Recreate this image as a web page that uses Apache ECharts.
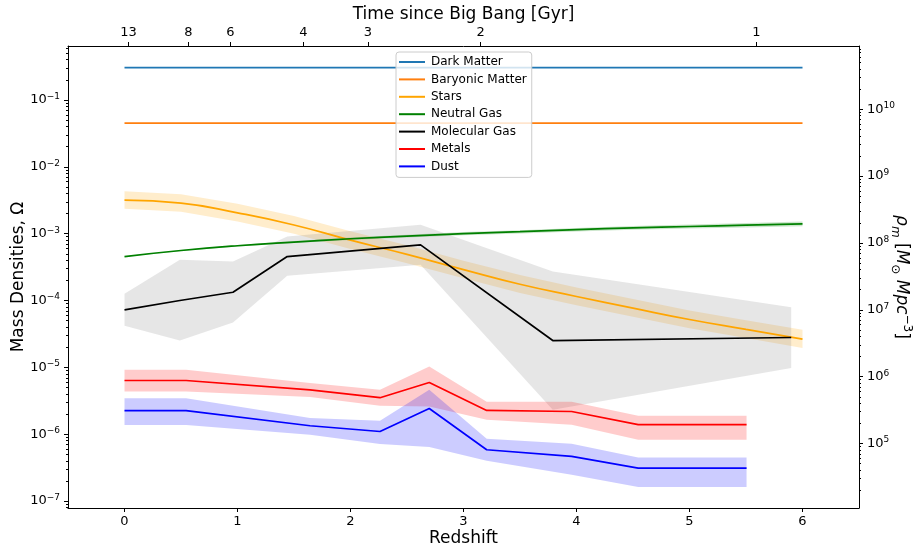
<!DOCTYPE html>
<html>
<head>
<meta charset="utf-8">
<script src="https://cdn.jsdelivr.net/npm/echarts@6/dist/echarts.min.js"></script>
<style>
html,body{margin:0;padding:0;background:#fff;}
#chart{width:920px;height:551px;}
</style>
</head>
<body>
<div id="chart"></div>
<script>
// ---------------- data ----------------
const zLine = [0, 6];
const darkMatter = [0.304, 0.304];
const baryonicMatter = [0.0449, 0.0449];

const zStars = [0, 0.5, 1, 1.5, 2, 2.5, 3, 3.5, 4, 4.5, 5, 5.5, 6];
const stars = [3.17e-3, 2.87e-3, 2.05e-3, 1.35e-3, 8.0e-4, 4.9e-4, 2.9e-4, 1.75e-4, 1.15e-4, 7.7e-5, 5.2e-5, 3.7e-5, 2.65e-5];
const starsHi = [4.3e-3, 3.9e-3, 2.8e-3, 1.84e-3, 1.09e-3, 6.7e-4, 3.95e-4, 2.4e-4, 1.57e-4, 1.05e-4, 7.1e-5, 5.05e-5, 3.65e-5];
const starsLo = [2.35e-3, 2.12e-3, 1.52e-3, 1.0e-3, 5.9e-4, 3.6e-4, 2.15e-4, 1.3e-4, 8.5e-5, 5.7e-5, 3.85e-5, 2.75e-5, 1.95e-5];

const zGas = [0, 0.5, 1, 1.5, 2, 2.5, 3, 3.5, 4, 4.5, 5, 5.5, 6];
const neutralGas = [4.55e-4, 5.6e-4, 6.6e-4, 7.5e-4, 8.4e-4, 9.2e-4, 1.0e-3, 1.07e-3, 1.15e-3, 1.22e-3, 1.28e-3, 1.34e-3, 1.40e-3];
const neutralGasHi = [4.6e-4, 5.7e-4, 6.75e-4, 7.75e-4, 8.75e-4, 9.65e-4, 1.055e-3, 1.13e-3, 1.22e-3, 1.3e-3, 1.37e-3, 1.44e-3, 1.52e-3];
const neutralGasLo = [4.5e-4, 5.5e-4, 6.45e-4, 7.25e-4, 8.05e-4, 8.75e-4, 9.45e-4, 1.01e-3, 1.08e-3, 1.14e-3, 1.19e-3, 1.24e-3, 1.29e-3];

const zMol = [0, 0.49, 0.96, 1.44, 2.62, 3.79, 5.9];
const molecularGas = [7.26e-5, 1.0e-4, 1.33e-4, 4.55e-4, 6.81e-4, 2.52e-5, 2.80e-5];
const molecularGasHi = [1.26e-4, 4.06e-4, 3.83e-4, 9.05e-4, 1.36e-3, 2.72e-4, 7.96e-5];
const molecularGasLo = [4.19e-5, 2.52e-5, 4.69e-5, 2.34e-4, 3.42e-4, 2.32e-6, 9.77e-6];

const zMet = [0, 0.545, 1.642, 2.261, 2.697, 3.205, 3.957, 4.546, 5.505];
const metals = [6.37e-6, 6.37e-6, 4.62e-6, 3.52e-6, 5.94e-6, 2.27e-6, 2.19e-6, 1.39e-6, 1.39e-6];
const metalsHi = [9.2e-6, 9.2e-6, 5.82e-6, 4.62e-6, 1.03e-5, 3.06e-6, 3.06e-6, 1.89e-6, 1.89e-6];
const metalsLo = [4.36e-6, 4.36e-6, 3.6e-6, 2.67e-6, 2.6e-6, 1.65e-6, 1.39e-6, 8.28e-7, 8.28e-7];

const zDust = [0, 0.545, 1.642, 2.261, 2.697, 3.205, 3.957, 4.546, 5.505];
const dust = [2.25e-6, 2.25e-6, 1.34e-6, 1.10e-6, 2.43e-6, 5.86e-7, 4.66e-7, 3.12e-7, 3.12e-7];
const dustHi = [3.47e-6, 3.47e-6, 1.75e-6, 1.59e-6, 4.62e-6, 8.57e-7, 7.21e-7, 4.5e-7, 4.5e-7];
const dustLo = [1.37e-6, 1.37e-6, 9.82e-7, 7.13e-7, 6.44e-7, 4.02e-7, 2.48e-7, 1.63e-7, 1.63e-7];

// axis ticks
const bottomTicks = [0, 1, 2, 3, 4, 5, 6];
const topTickRedshift = [0.035, 0.566, 0.937, 1.583, 2.153, 3.151, 5.593];
const topTickLabels = ['13', '8', '6', '4', '3', '2', '1'];

// axis ranges
const xMin = -0.5, xMax = 6.5;
const omegaMin = Math.pow(10, -7.103), omegaMax = Math.pow(10, -0.193);
const rhoCritLog = 11.139; // rho_m = Omega * rho_crit
const rhoMin = Math.pow(10, -7.103 + rhoCritLog), rhoMax = Math.pow(10, -0.193 + rhoCritLog);

// ---------------- helpers ----------------
const FONT = 'DejaVu Sans';
function zip(xs, ys) { return xs.map((x, i) => [x, ys[i]]); }
function zip3(xs, lo, hi) { return xs.map((x, i) => [x, lo[i], hi[i]]); }
function minorTicks(lo, hi) {
  const out = [];
  for (let k = -12; k <= 12; k++) {
    for (let m = 2; m <= 9; m++) {
      const v = Number((m * Math.pow(10, k)).toPrecision(3));
      if (v > lo && v < hi) out.push(v);
    }
  }
  return out;
}
function powLabel(v) {
  const e = Math.log10(v);
  const r = Math.round(e);
  if (Math.abs(e - r) > 1e-6) return '';
  const s = r < 0 ? '\u2212' + (-r) : String(r);
  return '{b|10}{s|' + s + '}';
}
const powRich = {
  b: { fontSize: 13, fontFamily: FONT, color: '#000', lineHeight: 16 },
  s: { fontSize: 9, fontFamily: FONT, color: '#000', lineHeight: 10, verticalAlign: 'top' }
};

function bandRender(params, api) {
  if (params.dataIndexInside !== 0) return null;
  const n = params.dataInsideLength;
  const top = [], bot = [];
  for (let i = 0; i < n; i++) {
    const x = api.value(0, i);
    bot.push(api.coord([x, api.value(1, i)]));
    top.push(api.coord([x, api.value(2, i)]));
  }
  return {
    type: 'polygon',
    shape: { points: top.concat(bot.reverse()) },
    style: { fill: api.visual('color') }
  };
}
function band(name, xs, lo, hi, color) {
  return {
    type: 'custom', name: name + ' band', renderItem: bandRender,
    data: zip3(xs, lo, hi), encode: { x: 0, y: [1, 2] },
    itemStyle: { color: color }, z: 1, silent: true, clip: true
  };
}
function line(name, xs, ys, color, smooth) {
  return {
    type: 'line', name: name, data: zip(xs, ys), showSymbol: false, symbol: 'none',
    smooth: !!smooth, itemStyle: { color: color }, lineStyle: { color: color, width: 1.7 },
    z: 3, silent: true
  };
}

// ---------------- chart ----------------
const chart = echarts.init(document.getElementById('chart'), null, { renderer: 'canvas' });
const axisLineStyle = { show: true, onZero: false, lineStyle: { color: '#000', width: 1 } };

const option = {
  animation: false,
  backgroundColor: '#fff',
  grid: { left: 68, right: 61, top: 46, bottom: 43, containLabel: false, outerBoundsMode: 'none' },
  legend: {
    orient: 'vertical', left: 396, top: 52,
    padding: [3, 5, 4, 3], itemGap: 3.4, itemWidth: 26, itemHeight: 2,
    icon: 'rect', selectedMode: false,
    backgroundColor: 'rgba(255,255,255,0.8)', borderColor: '#cccccc', borderWidth: 1, borderRadius: 3,
    textStyle: { fontFamily: FONT, fontSize: 12, color: '#000', lineHeight: 14, padding: [0, 0, 0, 1] },
    data: ['Dark Matter', 'Baryonic Matter', 'Stars', 'Neutral Gas', 'Molecular Gas', 'Metals', 'Dust'],
    z: 10
  },
  xAxis: [
    {
      type: 'value', position: 'bottom', min: xMin, max: xMax,
      name: 'Redshift', nameLocation: 'middle', nameGap: 22, nameMoveOverlap: false,
      nameTextStyle: { fontFamily: FONT, fontSize: 17, color: '#000' },
      axisLine: axisLineStyle,
      axisTick: { show: true, length: 4, lineStyle: { color: '#000' }, customValues: bottomTicks },
      axisLabel: { customValues: bottomTicks, margin: 7, fontFamily: FONT, fontSize: 13, color: '#000' },
      splitLine: { show: false }
    },
    {
      type: 'value', position: 'top', min: xMin, max: xMax,
      name: 'Time since Big Bang [Gyr]', nameLocation: 'middle', nameGap: 23, nameMoveOverlap: false,
      nameTextStyle: { fontFamily: FONT, fontSize: 17, color: '#000' },
      axisLine: axisLineStyle,
      axisTick: { show: true, length: 4, lineStyle: { color: '#000' }, customValues: topTickRedshift },
      axisLabel: {
        customValues: topTickRedshift, margin: 7, fontFamily: FONT, fontSize: 13, color: '#000',
        formatter: function (v) {
          let best = 0, d = Infinity;
          topTickRedshift.forEach((z, i) => { const dd = Math.abs(z - v); if (dd < d) { d = dd; best = i; } });
          return topTickLabels[best];
        }
      },
      splitLine: { show: false }
    }
  ],
  yAxis: [
    {
      type: 'log', logBase: 10, position: 'left', min: omegaMin, max: omegaMax,
      name: 'Mass Densities, \u03A9', nameLocation: 'middle', nameGap: 41, nameRotate: 90, nameMoveOverlap: false,
      nameTextStyle: { fontFamily: FONT, fontSize: 17, color: '#000' },
      axisLine: axisLineStyle,
      axisTick: { show: true, length: 4, lineStyle: { color: '#000' } },
      axisLabel: { margin: 8, formatter: powLabel, rich: powRich, showMinLabel: false, showMaxLabel: false },
      splitLine: { show: false }, minorTick: { show: false }
    },
    {
      type: 'log', logBase: 10, position: 'left', min: omegaMin, max: omegaMax,
      axisLine: { show: false, onZero: false },
      axisTick: { show: true, length: 2, lineStyle: { color: '#000' }, customValues: minorTicks(omegaMin, omegaMax) },
      axisLabel: { show: false }, splitLine: { show: false }
    },
    {
      type: 'log', logBase: 10, position: 'right', min: rhoMin, max: rhoMax,
      name: '{i|\u03C1}{sub|m}{n| [}{i|M}{sub|\u2299}{i| Mpc}{sup|\u22123}{n|]}',
      nameLocation: 'middle', nameGap: 30, nameRotate: -90, nameMoveOverlap: false,
      nameTextStyle: {
        fontFamily: FONT, fontSize: 17, color: '#000',
        rich: {
          i: { fontFamily: FONT, fontSize: 17, fontStyle: 'italic', color: '#000', lineHeight: 24 },
          n: { fontFamily: FONT, fontSize: 17, color: '#000', lineHeight: 24 },
          sub: { fontFamily: FONT, fontSize: 12, fontStyle: 'italic', color: '#000', lineHeight: 13, verticalAlign: 'bottom' },
          sup: { fontFamily: FONT, fontSize: 12, color: '#000', lineHeight: 13, verticalAlign: 'top' }
        }
      },
      axisLine: axisLineStyle,
      axisTick: { show: true, length: 4, lineStyle: { color: '#000' } },
      axisLabel: { margin: 8, formatter: powLabel, rich: powRich, showMinLabel: false, showMaxLabel: false },
      splitLine: { show: false }
    },
    {
      type: 'log', logBase: 10, position: 'right', min: rhoMin, max: rhoMax,
      axisLine: { show: false, onZero: false },
      axisTick: { show: true, length: 2, lineStyle: { color: '#000' }, customValues: minorTicks(rhoMin, rhoMax) },
      axisLabel: { show: false }, splitLine: { show: false }
    }
  ],
  series: [
    band('Stars', zStars, starsLo, starsHi, 'rgba(255,165,0,0.2)'),
    band('Neutral Gas', zGas, neutralGasLo, neutralGasHi, 'rgba(0,128,0,0.2)'),
    band('Molecular Gas', zMol, molecularGasLo, molecularGasHi, 'rgba(128,128,128,0.2)'),
    band('Metals', zMet, metalsLo, metalsHi, 'rgba(255,0,0,0.2)'),
    band('Dust', zDust, dustLo, dustHi, 'rgba(0,0,255,0.2)'),
    line('Dark Matter', zLine, darkMatter, '#1f77b4'),
    line('Baryonic Matter', zLine, baryonicMatter, '#ff7f0e'),
    line('Stars', zStars, stars, '#ffa500', true),
    line('Neutral Gas', zGas, neutralGas, '#008000', true),
    line('Molecular Gas', zMol, molecularGas, '#000000'),
    line('Metals', zMet, metals, '#ff0000'),
    line('Dust', zDust, dust, '#0000ff')
  ]
};
chart.setOption(option);
</script>
</body>
</html>
